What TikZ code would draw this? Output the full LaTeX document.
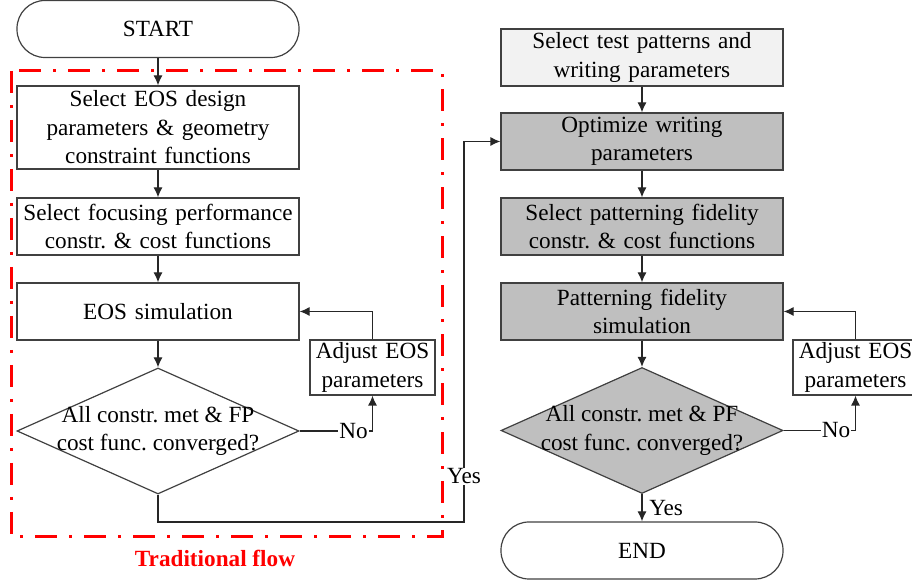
\documentclass[tikz,border=0pt]{standalone}
\usepackage{fontspec}
\setmainfont{Liberation Serif}
\frenchspacing
\usetikzlibrary{positioning, arrows.meta, shapes.geometric}

\begin{document}
\begin{tikzpicture}[x=0.5pt, y=-0.5pt, on grid, font=\fontsize{11.6}{14.25}\selectfont,
    proc/.style={draw=black!75, line width=0.6pt, rectangle, minimum width=141pt, minimum height=28.5pt, text width=141pt, align=center, inner sep=0pt},
    term/.style={proc, rounded corners=14pt},
    decide/.style={draw=black!75, line width=0.6pt, diamond, minimum width=141pt, minimum height=63pt, inner sep=0pt},
    small/.style={proc, minimum width=62.5pt, minimum height=27.5pt, text width=62.5pt},
    flow/.style={-{Latex[length=5pt,width=4.5pt]}, line width=0.6pt, draw=black!85},
    lbl/.style={fill=white, inner sep=0.5pt},
    trad/.style={draw=red, line width=1.5pt, dash pattern=on 11pt off 6pt on 1.5pt off 6pt}]
    \useasboundingbox (0,0) rectangle (912,581);

    \node[term] (start) at (158,29) {START};
    \node[proc, minimum height=41.5pt] (sel1) [below=49.25pt of start] {Select EOS design\\parameters \& geometry\\constraint functions};
    \node[proc] (foc) [below=49.5pt of sel1] {Select focusing performance\\constr. \& cost functions};
    \node[proc] (sim1) [below=42.5pt of foc] {EOS simulation};
    \node[decide, label={[align=center]center:All constr. met \& FP\\cost func. converged?}] (dia1) [below=59.75pt of sim1] {};
    \node[small] (adj1) [below right=28pt and 107.25pt of sim1] {Adjust EOS\\parameters};

    \node[proc, fill=black!5] (test) at (642,57.5) {Select test patterns and\\writing parameters};
    \node[proc, fill=black!25] (opt) [below=42pt of test] {Optimize writing\\parameters};
    \node[proc, fill=black!25] (selpf) [below=42.5pt of opt] {Select patterning fidelity\\constr. \& cost functions};
    \node[proc, fill=black!25] (sim2) [below=42.5pt of selpf] {Patterning fidelity\\simulation};
    \node[decide, fill=black!25, label={[align=center]center:All constr. met \& PF\\cost func. converged?}] (dia2) [below=59.5pt of sim2] {};
    \node[term] (end) [below=60pt of dia2] {END};
    \node[small] (adj2) [below right=28pt and 106.75pt of sim2] {Adjust EOS\\parameters};

    \coordinate (yk) at (464,522);

    \draw[flow] (start) -- (sel1);
    \draw[flow] (sel1) -- (foc);
    \draw[flow] (foc) -- (sim1);
    \draw[flow] (sim1) -- (dia1);
    \draw[flow] (dia1.east) -| node[lbl, pos=0.37] {No} (adj1.south);
    \draw[flow] (adj1.north) |- (sim1.east);
    \draw[flow] (dia1.south) |- (yk) |- node[lbl, pos=0.06] {Yes} (opt.west);

    \draw[flow] (test) -- (opt);
    \draw[flow] (opt) -- (selpf);
    \draw[flow] (selpf) -- (sim2);
    \draw[flow] (sim2) -- (dia2);
    \draw[flow] (dia2) -- node[right] {Yes} (end);
    \draw[flow] (dia2.east) -| node[lbl, pos=0.365] {No} (adj2.south);
    \draw[flow] (adj2.north) |- (sim2.east);

    \draw[trad] (11,71) rectangle (442,537);
    \node[text=red, font=\fontsize{11.6}{14.25}\selectfont\bfseries] (tradlbl) at (215,558) {Traditional flow};
\end{tikzpicture}
\end{document}
